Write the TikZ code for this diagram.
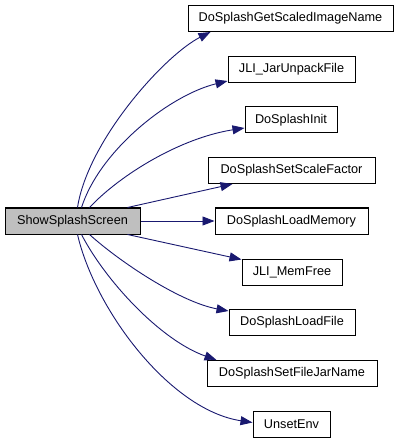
\documentclass[tikz,border=0pt]{standalone}
\usepackage{fontspec}
\setmainfont{Liberation Sans}
\usetikzlibrary{arrows.meta}
\definecolor{edgeblue}{HTML}{191970}
\definecolor{maingray}{HTML}{BFBFBF}
\begin{document}
\begin{tikzpicture}[x=1pt,y=-1pt,
  box/.style={draw=black,line width=1pt,fill=white,minimum height=26pt,inner sep=0pt,
    font=\fontsize{12.7}{15}\selectfont},
  call/.style={draw=edgeblue,line width=0.9pt,-{Triangle[length=12pt,width=9pt]}, color=edgeblue}]
\useasboundingbox (0,0) rectangle (401,443);
\node[box,fill=maingray,minimum width=135pt] (main) at (72.5,221) {ShowSplashScreen};
\node[box,minimum width=205pt] (n1) at (290.5,18.5) {DoSplashGetScaledImageName};
\node[box,minimum width=127pt] (n2) at (291.5,69.5) {JLI\_JarUnpackFile};
\node[box,minimum width=92pt] (n3) at (291,120) {DoSplashInit};
\node[box,minimum width=167pt] (n4) at (291.5,170.5) {DoSplashSetScaleFactor};
\node[box,minimum width=153pt] (n5) at (291.5,221) {DoSplashLoadMemory};
\node[box,minimum width=100pt] (n6) at (292,272) {JLI\_MemFree};
\node[box,minimum width=126pt] (n7) at (292,322.5) {DoSplashLoadFile};
\node[box,minimum width=170pt] (n8) at (292,373.5) {DoSplashSetFileJarName};
\node[box,minimum width=77pt] (n9) at (291.5,424.5) {UnsetEnv};

\draw[call] ([xshift=73pt]main.north west) .. controls (88,140) and (165,55) .. ([xshift=23pt]n1.south west);
\draw[call] ([xshift=77pt]main.north west) .. controls (100,150) and (170,95) .. ([yshift=2pt]n2.south west);
\draw[call] ([xshift=85pt]main.north west) .. controls (120,175) and (180,138) .. ([yshift=-8pt]n3.west);
\draw[call] ([xshift=123pt]main.north west) -- ([xshift=25pt]n4.south west);
\draw[call] (main.east) -- (n5.west);
\draw[call] ([xshift=123pt]main.south west) -- ([yshift=-1pt]n6.north west);
\draw[call] ([xshift=85pt]main.south west) .. controls (120,262) and (180,302) .. ([yshift=-2pt]n7.north west);
\draw[call] ([xshift=77pt]main.south west) .. controls (105,280) and (160,340) .. ([xshift=10pt]n8.north west);
\draw[call] ([xshift=73pt]main.south west) .. controls (95,310) and (170,410) .. ([yshift=2pt]n9.west);
\end{tikzpicture}
\end{document}
